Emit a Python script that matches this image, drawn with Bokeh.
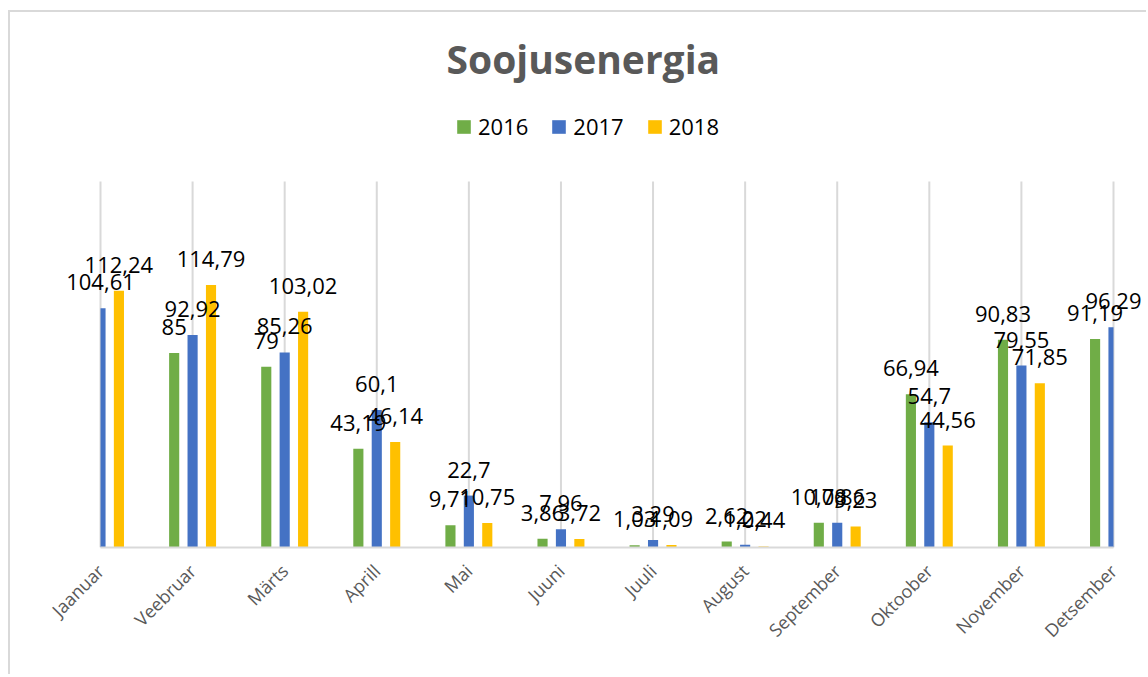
import math
import numpy as np
from bokeh.plotting import figure
from bokeh.models import ColumnDataSource, Range1d, FixedTicker, LabelSet, Legend, LegendItem
from bokeh.core.properties import value
from bokeh.embed import file_html
from bokeh.resources import INLINE

months = ["Jaanuar", "Veebruar", "Märts", "Aprill", "Mai", "Juuni", "Juuli",
          "August", "September", "Oktoober", "November", "Detsember"]
years = ["2016", "2017", "2018"]
v2016 = [None, 85, 79, 43.19, 9.71, 3.86, 1.03, 2.62, 10.78, 66.94, 90.83, 91.19]
v2017 = [104.61, 92.92, 85.26, 60.1, 22.7, 7.96, 3.29, 1.22, 10.86, 54.7, 79.55, 96.29]
v2018 = [112.24, 114.79, 103.02, 46.14, 10.75, 3.72, 1.09, 0.44, 9.23, 44.56, 71.85, None]
colors = ["#70AD47", "#4472C4", "#FFC000"]
y_max = 160

# layout (pixels)
offsets = [-0.2, 0.0, 0.2]
bar_w = 0.11
n = len(months)
plot_left, plot_right = 90, 1013      # category axis span inside the frame
frame_w, frame_h = 1136, 446
axis_h = 366
px_x = plot_right / (n - 1)
px_y = axis_h / y_max


def fmt(v):
    return f"{v:g}".replace(".", ",")


p = figure(frame_width=frame_w, frame_height=frame_h,
           x_range=Range1d(-plot_left / px_x, (frame_w - plot_left) / px_x),
           y_range=Range1d(0, frame_h / px_y),
           output_backend="svg", toolbar_location=None, y_axis_location=None,
           min_border_left=0, min_border_right=0, min_border_top=88, min_border_bottom=127)
p.styles = {"border-top": "2px solid #d9d9d9", "border-left": "2px solid #d9d9d9",
            "margin-top": "10px", "margin-left": "8px"}
p.outline_line_color = None
p.background_fill_color = "white"
p.border_fill_color = "white"
p.xgrid.visible = False
p.ygrid.visible = False

# vertical grid lines at the category centres
idx_all = list(range(n))
p.segment(x0=idx_all, y0=[0] * n, x1=idx_all, y1=[y_max] * n,
          line_color="#d9d9d9", line_width=2)

renderers = []
for yr, vals, col, off in zip(years, [v2016, v2017, v2018], colors, offsets):
    idx = np.array([i for i, v in enumerate(vals) if v is not None], dtype=float)
    ys = [vals[int(i)] for i in idx]
    src = ColumnDataSource(dict(
        xc=idx + off,
        left=np.clip(idx + off - bar_w / 2, 0, n - 1),
        right=np.clip(idx + off + bar_w / 2, 0, n - 1),
        y=ys, lbl=[fmt(v) for v in ys]))
    r = p.quad(left="left", right="right", bottom=0, top="y", source=src,
               fill_color=col, line_color=None)
    renderers.append(r)
    p.add_layout(LabelSet(x="xc", y="y", text="lbl", source=src,
                          y_offset=26, text_align="center", text_baseline="middle",
                          text_font=value("Open Sans"), text_font_size=value("22px"),
                          text_color="black"))

legend = Legend(items=[LegendItem(label=yr, renderers=[r]) for yr, r in zip(years, renderers)],
                orientation="horizontal", location=(445, 406),
                glyph_width=17, glyph_height=17, label_standoff=6, spacing=22,
                padding=0, margin=0, border_line_color=None, background_fill_alpha=0,
                label_text_font="Open Sans", label_text_font_size="22px",
                label_text_color="black")
p.add_layout(legend, "center")

p.title.text = "Soojusenergia"
p.title.text_font = "Open Sans"
p.title.text_font_size = "39px"
p.title.text_font_style = "bold"
p.title.text_color = "#595959"
p.title.align = "left"
p.title.offset = 436
p.title.standoff = 34

p.xaxis.ticker = FixedTicker(ticks=idx_all)
p.xaxis.bounds = (0, n - 1)
p.xaxis.major_label_overrides = {i: m for i, m in enumerate(months)}
p.xaxis.axis_line_color = "#d9d9d9"
p.xaxis.axis_line_width = 2
p.xaxis.major_tick_line_color = None
p.xaxis.minor_tick_line_color = None
p.xaxis.major_label_orientation = math.pi / 4
p.xaxis.major_label_standoff = 14
p.xaxis.major_label_text_font = "Open Sans"
p.xaxis.major_label_text_font_size = "18px"
p.xaxis.major_label_text_color = "#595959"

open("out.html", "w").write(file_html(p, INLINE))
